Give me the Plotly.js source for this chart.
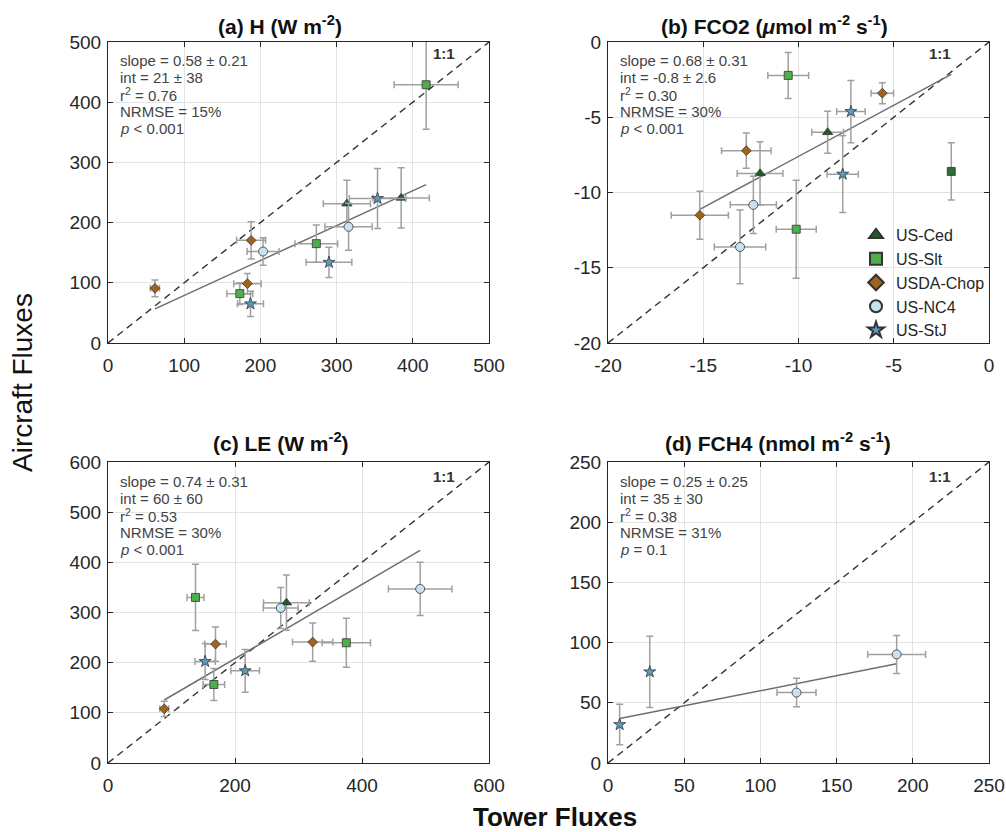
<!DOCTYPE html>
<html>
<head>
<meta charset="utf-8">
<script src="https://cdn.plot.ly/plotly-3.0.1.min.js"></script>
<style>
html,body{margin:0;padding:0;background:#fff;}
#chart{width:1006px;height:832px;}
</style>
</head>
<body>
<div id="chart"></div>
<script>
// ---------------- DATA ----------------
const sites = ['US-Ced', 'US-Slt', 'USDA-Chop', 'US-NC4', 'US-StJ'];

// (a) H (W m-2)
const H_Ced_x = [313.5, 384.7];  const H_Ced_y = [231.5, 241];  const H_Ced_ex = [31, 37];  const H_Ced_ey = [39, 50];
const H_Slt_x = [417.5, 273.4, 173]; const H_Slt_y = [429, 165, 82]; const H_Slt_ex = [42, 28, 17]; const H_Slt_ey = [74, 31, 18];
const H_Chop_x = [187.8, 183, 61.6]; const H_Chop_y = [170.5, 98.6, 90.8]; const H_Chop_ex = [19, 18, 6]; const H_Chop_ey = [31, 17, 14];
const H_NC4_x = [315.7, 203.5]; const H_NC4_y = [193, 152]; const H_NC4_ex = [31, 21]; const H_NC4_ey = [39, 23];
const H_StJ_x = [353.7, 290, 187]; const H_StJ_y = [240, 134, 65]; const H_StJ_ex = [37, 30, 17]; const H_StJ_ey = [50, 25, 21];

// (b) FCO2 (umol m-2 s-1)
const C_Ced_x = [-8.47, -12.02]; const C_Ced_y = [-6.0, -8.73]; const C_Ced_ex = [0.83, 1.2]; const C_Ced_ey = [1.4, 2.1];
const C_Slt_x = [-10.54, -10.12]; const C_Slt_y = [-2.22, -12.44]; const C_Slt_ex = [1.07, 1.05]; const C_Slt_ey = [1.53, 3.25];
const C_Slt2_x = [-1.98]; const C_Slt2_y = [-8.6]; const C_Slt2_ex = [0]; const C_Slt2_ey = [1.9];
const C_Chop_x = [-5.6, -12.74, -15.18]; const C_Chop_y = [-3.4, -7.22, -11.51]; const C_Chop_ex = [0.59, 1.3, 1.5]; const C_Chop_ey = [0.7, 1.17, 1.6];
const C_NC4_x = [-12.37, -13.07]; const C_NC4_y = [-10.82, -13.62]; const C_NC4_ex = [1.21, 1.35]; const C_NC4_ey = [1.9, 2.45];
const C_StJ_x = [-7.25, -7.68]; const C_StJ_y = [-4.62, -8.78]; const C_StJ_ex = [0.75, 0.82]; const C_StJ_ey = [2.07, 2.55];

// (c) LE (W m-2)
const L_Ced_x = [281]; const L_Ced_y = [319.6]; const L_Ced_ex = [36]; const L_Ced_ey = [55];
const L_Slt_x = [137.8, 375.3, 166.7]; const L_Slt_y = [330, 239.7, 156.5]; const L_Slt_ex = [13.4, 38, 17]; const L_Slt_ey = [66, 49, 32];
const L_Chop_x = [169.3, 322.3, 88.6]; const L_Chop_y = [237, 241, 107.9]; const L_Chop_ex = [17, 31.7, 7]; const L_Chop_ey = [34, 38, 15];
const L_NC4_x = [491.6, 272]; const L_NC4_y = [347, 309]; const L_NC4_ex = [50, 27.5]; const L_NC4_ey = [53, 41];
const L_StJ_x = [153, 216]; const L_StJ_y = [202.4, 183.8]; const L_StJ_ex = [16, 22.5]; const L_StJ_ey = [36, 42.6];

// (d) FCH4 (nmol m-2 s-1)
const M_NC4_x = [123.7, 189.4]; const M_NC4_y = [58.5, 90.2]; const M_NC4_ex = [12.8, 19]; const M_NC4_ey = [11.8, 15.8];
const M_StJ_x = [7.66, 27.4]; const M_StJ_y = [31.9, 75.7]; const M_StJ_ex = [0, 0]; const M_StJ_ey = [16.8, 29.5];

// regression stats
const panelTitles = ['(a) H (W m<sup>-2</sup>)', '(b) FCO2 (<i>\u03bc</i>mol m<sup>-2</sup> s<sup>-1</sup>)', '(c) LE (W m<sup>-2</sup>)', '(d) FCH4 (nmol m<sup>-2</sup> s<sup>-1</sup>)'];
const slopes = [0.58, 0.68, 0.74, 0.25];
const slopeErr = ['0.21', '0.31', '0.31', '0.25'];
const intercepts = [21, -0.8, 60, 35];
const intErr = ['38', '2.6', '60', '30'];
const r2 = ['0.76', '0.30', '0.53', '0.38'];
const nrmse = ['15%', '30%', '30%', '31%'];
const pval = ['< 0.001', '< 0.001', '< 0.001', '= 0.1'];
const axisRanges = [[0, 500], [-20, 0], [0, 600], [0, 250]];
const xTickVals = [[0, 100, 200, 300, 400, 500], [-20, -15, -10, -5, 0], [0, 200, 400, 600], [0, 50, 100, 150, 200, 250]];
const yTickVals = [[0, 100, 200, 300, 400, 500], [-20, -15, -10, -5, 0], [0, 100, 200, 300, 400, 500, 600], [0, 50, 100, 150, 200, 250]];

// ---------------- STYLE ----------------
const FONT = 'Liberation Sans, Arial, Helvetica, sans-serif';
const siteStyle = {
  'US-Ced':    {symbol: 'triangle-up', color: '#1e5c2b', size: 9},
  'US-Slt':    {symbol: 'square',      color: '#4fae4c', size: 8},
  'USDA-Chop': {symbol: 'diamond',     color: '#a5621c', size: 7.5},
  'US-NC4':    {symbol: 'circle',      color: '#c5e3f1', size: 9},
  'US-StJ':    {symbol: 'star',        color: '#5a9cc0', size: 9}
};

const panels = [
  {ax: ['x', 'y'], sets: {'US-Ced': [H_Ced_x, H_Ced_y, H_Ced_ex, H_Ced_ey], 'US-Slt': [H_Slt_x, H_Slt_y, H_Slt_ex, H_Slt_ey], 'USDA-Chop': [H_Chop_x, H_Chop_y, H_Chop_ex, H_Chop_ey], 'US-NC4': [H_NC4_x, H_NC4_y, H_NC4_ex, H_NC4_ey], 'US-StJ': [H_StJ_x, H_StJ_y, H_StJ_ex, H_StJ_ey]}},
  {ax: ['x2', 'y2'], sets: {'US-Ced': [C_Ced_x, C_Ced_y, C_Ced_ex, C_Ced_ey], 'US-Slt': [C_Slt_x, C_Slt_y, C_Slt_ex, C_Slt_ey], 'USDA-Chop': [C_Chop_x, C_Chop_y, C_Chop_ex, C_Chop_ey], 'US-NC4': [C_NC4_x, C_NC4_y, C_NC4_ex, C_NC4_ey], 'US-StJ': [C_StJ_x, C_StJ_y, C_StJ_ex, C_StJ_ey]}},
  {ax: ['x3', 'y3'], sets: {'US-Ced': [L_Ced_x, L_Ced_y, L_Ced_ex, L_Ced_ey], 'US-Slt': [L_Slt_x, L_Slt_y, L_Slt_ex, L_Slt_ey], 'USDA-Chop': [L_Chop_x, L_Chop_y, L_Chop_ex, L_Chop_ey], 'US-NC4': [L_NC4_x, L_NC4_y, L_NC4_ex, L_NC4_ey], 'US-StJ': [L_StJ_x, L_StJ_y, L_StJ_ex, L_StJ_ey]}},
  {ax: ['x4', 'y4'], sets: {'US-NC4': [M_NC4_x, M_NC4_y, M_NC4_ex, M_NC4_ey], 'US-StJ': [M_StJ_x, M_StJ_y, M_StJ_ex, M_StJ_ey]}}
];

const W = 1006, H = 832;
const px = v => v / W;
const py = v => 1 - v / H;

const traces = [];
panels.forEach((p, i) => {
  const [xa, ya] = p.ax;
  const r = axisRanges[i];
  // 1:1 line
  traces.push({x: [r[0], r[1]], y: [r[0], r[1]], xaxis: xa, yaxis: ya, mode: 'lines', showlegend: false, hoverinfo: 'skip',
    line: {color: '#333333', width: 1.4, dash: '7px,5px'}});
  // regression line over data range
  let allx = [];
  Object.values(p.sets).forEach(s => { allx = allx.concat(s[0]); });
  if (i === 1) allx = allx.concat(C_Slt2_x);
  const xmin = Math.min(...allx), xmax = Math.max(...allx);
  traces.push({x: [xmin, xmax], y: [slopes[i] * xmin + intercepts[i], slopes[i] * xmax + intercepts[i]], xaxis: xa, yaxis: ya,
    mode: 'lines', showlegend: false, hoverinfo: 'skip', line: {color: '#6e6e6e', width: 1.5}});
});

const errStyle = {type: 'data', color: '#a0a0a0', thickness: 1.5, width: 3.5};
panels.forEach((p, i) => {
  const [xa, ya] = p.ax;
  sites.forEach(site => {
    const s = p.sets[site];
    if (!s) return;
    const st = siteStyle[site];
    traces.push({
      x: s[0], y: s[1], xaxis: xa, yaxis: ya, mode: 'markers', name: site,
      legendgroup: site, showlegend: i === 1,
      error_x: Object.assign({array: s[2]}, errStyle),
      error_y: Object.assign({array: s[3]}, errStyle),
      marker: {symbol: st.symbol, color: st.color, size: st.size, line: {color: '#333333', width: 0.8}}
    });
    if (i === 1 && site === 'US-Slt') {
      traces.push({
        x: C_Slt2_x, y: C_Slt2_y, xaxis: xa, yaxis: ya, mode: 'markers', name: site, legendgroup: site, showlegend: false,
        error_x: Object.assign({array: C_Slt2_ex}, errStyle),
        error_y: Object.assign({array: C_Slt2_ey}, errStyle),
        marker: {symbol: 'square', color: '#2a6e31', size: 8, line: {color: '#333333', width: 0.8}}
      });
    }
  });
});

// ---------------- AXES ----------------
const domX = [[px(108), px(489)], [px(608), px(989)], [px(108), px(489)], [px(608), px(989)]];
const domY = [[py(343), py(42)], [py(343), py(42)], [py(763), py(462)], [py(763), py(462)]];

const layout = {
  width: W, height: H,
  margin: {l: 0, r: 0, t: 0, b: 0},
  paper_bgcolor: '#ffffff', plot_bgcolor: '#ffffff',
  font: {family: FONT, color: '#222222'},
  showlegend: true,
  legend: {x: px(856), y: py(218), xanchor: 'left', yanchor: 'top', bgcolor: 'rgba(0,0,0,0)', borderwidth: 0,
    font: {family: FONT, size: 16, color: '#262626'}, tracegroupgap: 0, itemsizing: 'constant'},
  annotations: [],
  shapes: []
};

const axNames = ['', '2', '3', '4'];
axNames.forEach((n, i) => {
  const common = {
    showline: true, linecolor: '#262626', linewidth: 1, mirror: 'ticks',
    ticks: 'inside', ticklen: 5, tickwidth: 1, tickcolor: '#262626',
    showgrid: true, gridcolor: '#e3e3e3', gridwidth: 1, zeroline: false,
    tickfont: {family: FONT, size: 19, color: '#262626'},
    range: axisRanges[i], tickmode: 'array', fixedrange: true
  };
  layout['xaxis' + n] = Object.assign({}, common, {domain: domX[i], anchor: 'y' + n,
    tickvals: xTickVals[i], ticktext: xTickVals[i].map(String), ticklabelstandoff: 5});
  layout['yaxis' + n] = Object.assign({}, common, {domain: domY[i], anchor: 'x' + n,
    tickvals: yTickVals[i], ticktext: yTickVals[i].map(String), ticklabelstandoff: 2});
});

// panel titles
const titlePos = [[280, 25], [774, 25], [281, 442], [778, 442]];
panelTitles.forEach((t, i) => {
  layout.annotations.push({text: '<b>' + t + '</b>', xref: 'paper', yref: 'paper', x: px(titlePos[i][0]), y: py(titlePos[i][1]),
    xanchor: 'center', yanchor: 'middle', showarrow: false, font: {family: FONT, size: 21, color: '#111111'}});
});

// stats text
const statLeft = [118, 618, 118, 618];
const statTop = [60.7, 60.7, 481.7, 481.7];
for (let i = 0; i < 4; i++) {
  const lines = [
    'slope = ' + slopes[i].toFixed(2) + ' \u00b1 ' + slopeErr[i],
    'int = ' + intercepts[i] + ' \u00b1 ' + intErr[i],
    'r<sup>2</sup> = ' + r2[i],
    'NRMSE = ' + nrmse[i],
    '<i>p</i> ' + pval[i]
  ];
  lines.forEach((ln, k) => {
    layout.annotations.push({text: ln, xref: 'paper', yref: 'paper', x: px(statLeft[i]), y: py(statTop[i] + k * 16.9),
      xanchor: 'left', yanchor: 'middle', showarrow: false, align: 'left', font: {family: FONT, size: 15, color: '#444444'}});
  });
  const oneX = [457, 953, 457, 953][i];
  const oneY = [53, 54, 476, 476][i];
  layout.annotations.push({text: '<b>1:1</b>', xref: 'paper', yref: 'paper', x: px(oneX), y: py(oneY),
    xanchor: 'right', yanchor: 'middle', showarrow: false, font: {family: FONT, size: 15, color: '#333333'}});
}

// shared axis titles
layout.annotations.push({text: 'Aircraft Fluxes', xref: 'paper', yref: 'paper', x: px(22), y: py(383), textangle: -90,
  xanchor: 'center', yanchor: 'middle', showarrow: false, font: {family: FONT, size: 28, color: '#111111'}});
layout.annotations.push({text: '<b>Tower Fluxes</b>', xref: 'paper', yref: 'paper', x: px(555), y: py(817),
  xanchor: 'center', yanchor: 'middle', showarrow: false, font: {family: FONT, size: 26, color: '#111111'}});

Plotly.newPlot('chart', traces, layout, {displayModeBar: false, staticPlot: true});
</script>
</body>
</html>
